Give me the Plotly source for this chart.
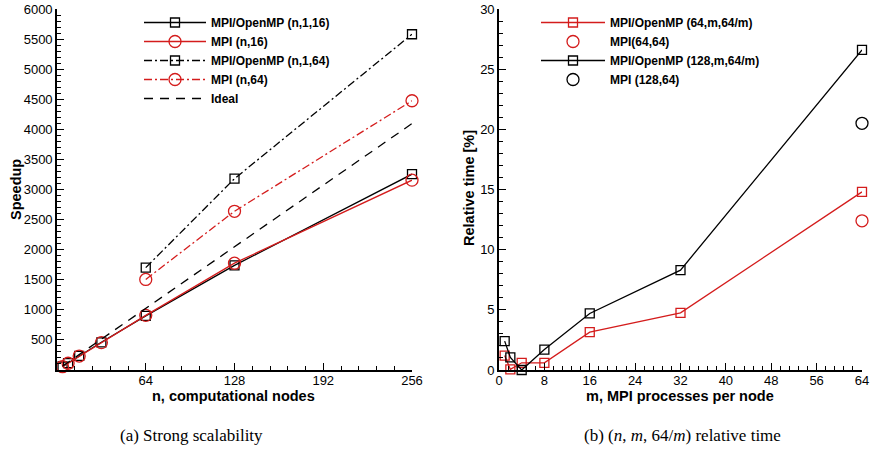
import plotly.graph_objects as go

# ---------------- data: left panel (strong scalability) ----------------
nodes = [4, 8, 16, 32, 64, 128, 256]
hyb_n_1_16 = [58, 115, 235, 460, 900, 1738, 3255]
mpi_n_16 = [55, 112, 232, 455, 908, 1775, 3155]
nodes_64 = [64, 128, 256]
hyb_n_1_64 = [1702, 3180, 5580]
mpi_n_64 = [1505, 2638, 4475]
ideal = [64, 128, 256, 512, 1024, 2048, 4096]

# ---------------- data: right panel (relative time) ----------------
m_vals = [1, 2, 4, 8, 16, 32, 64]
hyb_64_m = [1.2, 0.05, 0.6, 0.6, 3.15, 4.75, 14.8]
hyb_128_m = [2.4, 1.05, 0.0, 1.7, 4.7, 8.3, 26.6]
mpi_64_64_m = [64]
mpi_64_64 = [12.4]
mpi_128_64_m = [64]
mpi_128_64 = [20.5]

left_xticks = [64, 128, 192, 256]
left_yticks = [500, 1000, 1500, 2000, 2500, 3000, 3500, 4000, 4500, 5000, 5500, 6000]
right_xticks = [0, 8, 16, 24, 32, 40, 48, 56, 64]
right_yticks = [0, 5, 10, 15, 20, 25, 30]

RED = "#d41c1c"
BLK = "#000000"
SANS = "Liberation Sans"
DASHDOT = "8px,3px,2px,3px"
DASH = "9px,7px"

fig = go.Figure()

def add(x, y, name, color, dash, symbol, size, xa, ya, legend, mode="lines+markers"):
    fig.add_trace(go.Scatter(
        x=x, y=y, name=name, mode=mode, xaxis=xa, yaxis=ya, legend=legend,
        line=dict(color=color, width=1.3, dash=dash),
        marker=dict(symbol=symbol, size=size, color=color, line=dict(color=color, width=1.3)),
        cliponaxis=False,
    ))

add(nodes, hyb_n_1_16, "MPI/OpenMP (n,1,16)", BLK, "solid", "square-open", 9, "x", "y", "legend")
add(nodes, mpi_n_16, "MPI (n,16)", RED, "solid", "circle-open", 12, "x", "y", "legend")
add(nodes_64, hyb_n_1_64, "MPI/OpenMP (n,1,64)", BLK, DASHDOT, "square-open", 9, "x", "y", "legend")
add(nodes_64, mpi_n_64, "MPI (n,64)", RED, DASHDOT, "circle-open", 12, "x", "y", "legend")
fig.add_trace(go.Scatter(x=nodes, y=ideal, name="Ideal", mode="lines", xaxis="x", yaxis="y",
                         legend="legend", line=dict(color=BLK, width=1.3, dash=DASH)))

add(m_vals, hyb_64_m, "MPI/OpenMP (64,m,64/m)", RED, "solid", "square-open", 9, "x2", "y2", "legend2")
add(mpi_64_64_m, mpi_64_64, "MPI(64,64)", RED, "solid", "circle-open", 12, "x2", "y2", "legend2", mode="markers")
add(m_vals, hyb_128_m, "MPI/OpenMP (128,m,64/m)", BLK, "solid", "square-open", 9, "x2", "y2", "legend2")
add(mpi_128_64_m, mpi_128_64, "MPI (128,64)", BLK, "solid", "circle-open", 12, "x2", "y2", "legend2", mode="markers")

W, H = 870, 451
def px(v): return v / W
def py(v): return 1 - v / H

tickfont = dict(family=SANS, size=13, color="black")
def axis(domain, rng, tickvals, minor_dtick, anchor, standoff=0):
    return dict(domain=domain, range=rng, tickmode="array", tickvals=tickvals,
                ticks="inside", ticklen=7, tickwidth=1.2, tickcolor="black",
                showline=True, linewidth=1.6, linecolor="black", mirror=False,
                showgrid=False, zeroline=False, tickfont=tickfont, anchor=anchor,
                automargin=False, ticklabelstandoff=standoff,
                minor=dict(ticks="inside", ticklen=4, tickwidth=1, tickcolor="black",
                           tickmode="linear", tick0=0, dtick=minor_dtick, showgrid=False))

ydom = [py(370), py(9)]
fig.update_layout(
    template="none",
    width=W, height=H, margin=dict(l=0, r=0, t=0, b=0, pad=0, autoexpand=False),
    paper_bgcolor="white", plot_bgcolor="white",
    xaxis=axis([px(57), px(412)], [0, 256], left_xticks, 12.8, "y", -2),
    yaxis=axis(ydom, [0, 6000], left_yticks, 100, "x"),
    xaxis2=axis([px(499), px(862)], [0, 64], right_xticks, 1.6, "y2", -2),
    yaxis2=axis(ydom, [0, 30], right_yticks, 1, "x2"),
    legend=dict(x=px(139), y=py(8), xanchor="left", yanchor="top",
                font=dict(family=SANS, size=12, color="black", weight="bold"),
                bgcolor="rgba(0,0,0,0)", itemwidth=62, tracegroupgap=0),
    legend2=dict(x=px(536), y=py(8), xanchor="left", yanchor="top",
                 font=dict(family=SANS, size=12, color="black", weight="bold"),
                 bgcolor="rgba(0,0,0,0)", itemwidth=64, tracegroupgap=0),
    showlegend=True,
)

title_font = dict(family=SANS, size=14.5, color="black", weight="bold")
cap_font = dict(family="Liberation Serif", size=17, color="black")
ann = [
    dict(text="Speedup", x=px(16), y=py(190), textangle=-90, font=title_font),
    dict(text="n, computational nodes", x=px(234), y=py(396), font=title_font),
    dict(text="Relative time [%]", x=px(469), y=py(188), textangle=-90, font=title_font),
    dict(text="m, MPI processes per node", x=px(680), y=py(396), font=title_font),
    dict(text="(a) Strong scalability", x=px(191), y=py(435), font=cap_font),
    dict(text="(b) (<i>n</i>, <i>m</i>, 64/<i>m</i>) relative time", x=px(682), y=py(435), font=cap_font),
]
for a in ann:
    fig.add_annotation(xref="paper", yref="paper", showarrow=False,
                       xanchor="center", yanchor="middle", **a)

fig.write_html("out.html")
